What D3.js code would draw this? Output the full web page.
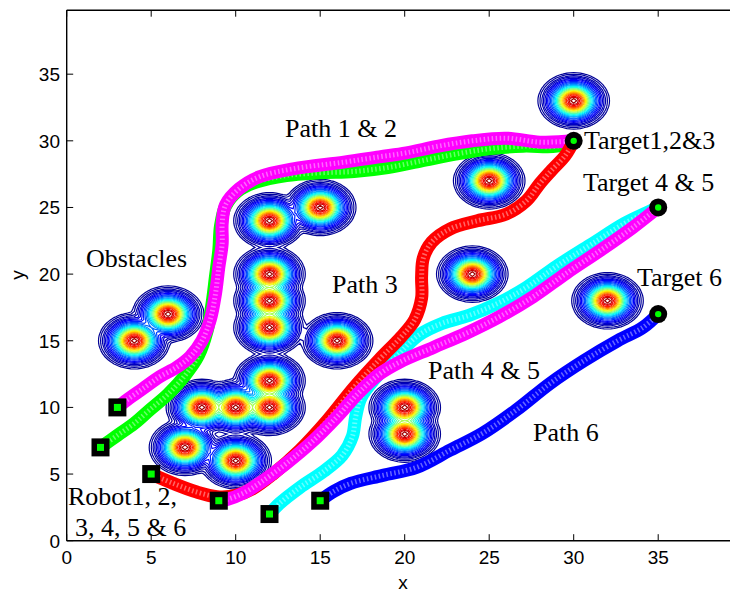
<!DOCTYPE html>
<html>
<head>
<meta charset="utf-8">
<script src="https://cdn.jsdelivr.net/npm/d3@7"></script>
<style>
  body { margin: 0; background: #fff; }
  svg { display: block; }
</style>
</head>
<body>
<svg id="chart" width="730" height="594"></svg>
<script>
// Obstacle centres (x, y)
const obstacleX = [30, 25, 32, 24, 20, 20, 16, 15, 12, 12, 12, 12, 12, 8, 10, 12, 7, 10, 6, 4];
const obstacleY = [33, 27, 18, 20, 10, 8, 15, 25, 24, 20, 18, 16, 12, 10, 10, 10, 7, 6, 17, 15];

// Robot start positions and targets
const startX = [3, 2, 5, 9, 12, 15];
const startY = [10, 7, 5, 3, 2, 3];
const targetX = [30, 35, 35];
const targetY = [30, 25, 17];

// Robot paths, [x, y] per waypoint
const path1 = [[2,7],[3,7.9],[4,8.8],[4.9,9.8],[6,11],[7,12.4],[7.8,13.9],[8.3,15.7],[8.6,17.8],[8.8,19.8],[9,21.8],[9.1,23.6],[9.4,25.1],[10.1,26.2],[11.2,26.9],[13,27.4],[15,27.6],[17,27.7],[19,28],[21,28.5],[23,29],[25,29.4],[27,29.6],[29,29.6],[30,30]];
const path2 = [[3,10],[3.6,10.6],[4.5,11.4],[5.5,12.3],[6.5,13],[7.3,13.8],[8,15],[8.5,16.6],[8.8,18.5],[9,20.5],[9.2,22.3],[9.2,23.8],[9.4,25.2],[10.2,26.4],[11.4,27.3],[13.4,27.9],[16.4,28.4],[18.5,28.8],[20.1,29.1],[22,29.6],[24,30],[26,30.2],[28,29.9],[30,30]];
const path3 = [[5,5],[6.3,4.3],[7.7,3.65],[8.9,3.3],[10,3.4],[11,3.9],[12.2,5],[13.8,6.8],[15.4,9],[17,11.5],[18.5,13.6],[19.8,15.3],[20.6,16.6],[21,18.2],[21,19.8],[21.1,21.2],[21.6,22.4],[22.7,23.4],[24.3,24],[26,24.5],[27.2,25.5],[28,26.8],[28.7,27.8],[29.5,28.9],[30,30]];
const path4 = [[12,2],[12.6,2.8],[13.8,4],[15.2,5.2],[16.3,6.4],[16.9,7.8],[17.1,9.3],[17.4,10.7],[18.2,12.1],[19.5,13.8],[20.8,15.4],[22.2,16.3],[23.8,16.9],[25.5,17.8],[27.2,19],[29,20.6],[31,22.2],[33,23.8],[34.3,24.6],[35,25]];
const path5 = [[9,3],[9.5,3.1],[10.5,3.6],[11.5,4.4],[13,5.8],[14.5,7.4],[16,9.3],[17.2,11],[18.5,12.5],[19.7,13.4],[21.7,14.5],[23.7,15.6],[25.6,16.8],[27.6,18.3],[29.6,20.1],[31.6,21.8],[33.5,23.5],[35,25]];
const path6 = [[15,3],[15.8,3.7],[16.8,4.3],[18.7,4.9],[20.7,5.5],[22.7,6.8],[24.6,8.05],[26.6,9.8],[28.6,11.8],[30.6,13.5],[32.6,15],[34.1,16],[35,17]];
const pathColors = ["#00ff00", "#ff00ff", "#00ffff", "#ff0000", "#ff00ff", "#0000ff"];
const pathOrder = [path1, path2, path4, path3, path5, path6];

// Axis ticks
const xTicks = [0, 5, 10, 15, 20, 25, 30, 35];
const yTicks = [0, 5, 10, 15, 20, 25, 30, 35];

// Contour levels of the obstacle field
const levels = [0.02, 0.03, 0.045, 0.06, 0.08, 0.1, 0.125, 0.155, 0.19, 0.225, 0.265, 0.305, 0.35, 0.395, 0.44, 0.49, 0.54, 0.59, 0.64, 0.69, 0.74, 0.79, 0.84, 0.89, 0.93, 0.97];

// Annotations
const labels = [
  {text: "Path 1 & 2", x: 285, y: 137},
  {text: "Obstacles", x: 86, y: 267},
  {text: "Path 3", x: 332, y: 293},
  {text: "Path 4 & 5", x: 428, y: 379},
  {text: "Path 6", x: 533, y: 441},
  {text: "Target1,2&3", x: 584, y: 149},
  {text: "Target 4 & 5", x: 583, y: 191},
  {text: "Target 6", x: 637, y: 286},
  {text: "Robot1, 2,", x: 68, y: 505},
  {text: "3, 4, 5 & 6", x: 75, y: 536}
];

const svg = d3.select("#chart");
const plotLeft = 66.7, plotBottom = 540.7, plotTop = 10.2;
const xMax = 39.8, yMax = 39.8;
const x = d3.scaleLinear().domain([0, xMax]).range([plotLeft, plotLeft + xMax * 16.9]);
const y = d3.scaleLinear().domain([0, yMax]).range([plotBottom, plotTop]);

svg.append("defs").append("clipPath").attr("id", "plot")
  .append("rect").attr("x", plotLeft).attr("y", plotTop).attr("width", 730 - plotLeft).attr("height", plotBottom - plotTop);

const plot = svg.append("g").attr("clip-path", "url(#plot)");

// Obstacle field on a grid: Gaussian bumps blended with a soft maximum
const step = 0.2;
const nx = Math.round(xMax / step) + 1, ny = Math.round(yMax / step) + 1;
const field = new Float64Array(nx * ny);
const twoS2 = 1.13, blendPow = 2.5;
for (let j = 0; j < ny; j++) {
  const gy = j * step;
  for (let i = 0; i < nx; i++) {
    const gx = i * step;
    let v = 0;
    for (let k = 0; k < obstacleX.length; k++) {
      const dx = gx - obstacleX[k], dy = gy - obstacleY[k];
      v += Math.pow(Math.exp(-(dx * dx + dy * dy) / twoS2), blendPow);
    }
    field[j * nx + i] = Math.pow(v, 1 / blendPow);
  }
}
function jet(t) {
  const c = v => Math.max(0, Math.min(1, v));
  const r = c(1.5 - Math.abs(4 * t - 3)), g = c(1.5 - Math.abs(4 * t - 2)), b = c(1.5 - Math.abs(4 * t - 1));
  return d3.rgb(r * 255, g * 255, b * 255).toString();
}
const contours = d3.contours().size([nx, ny]).thresholds(levels)(field);
const gridPath = d3.geoPath(d3.geoTransform({
  point(px, py) { this.stream.point(x((px - 0.5) * step), y((py - 0.5) * step)); }
}));
plot.append("g").selectAll("path").data(contours).join("path")
  .attr("d", gridPath)
  .attr("fill", "none")
  .attr("stroke", d => jet(d.value))
  .attr("stroke-width", 1.2);

// Robot paths: thick bands of overlapping ring markers
const line = d3.line().x(d => x(d[0])).y(d => y(d[1])).curve(d3.curveCatmullRom.alpha(0.5));
const paths = plot.append("g");
pathOrder.forEach((p, i) => {
  paths.append("path").attr("d", line(p)).attr("fill", "none")
    .attr("stroke", pathColors[i]).attr("stroke-width", 13)
    .attr("stroke-linecap", "round").attr("stroke-linejoin", "round");
  paths.append("path").attr("d", line(p)).attr("fill", "none")
    .attr("stroke", "#fff").attr("stroke-opacity", 0.4).attr("stroke-width", 5)
    .attr("stroke-dasharray", "1.5 2.5");
});

// Start markers
const marks = svg.append("g");
startX.forEach((sx, i) => {
  marks.append("rect").attr("x", x(sx) - 9).attr("y", y(startY[i]) - 9)
    .attr("width", 18).attr("height", 18).attr("fill", "#000");
  marks.append("rect").attr("x", x(sx) - 3.5).attr("y", y(startY[i]) - 3.5)
    .attr("width", 7).attr("height", 7).attr("fill", "#00ff00");
});
// Target markers
targetX.forEach((tx, i) => {
  marks.append("circle").attr("cx", x(tx)).attr("cy", y(targetY[i])).attr("r", 9).attr("fill", "#000");
  marks.append("circle").attr("cx", x(tx)).attr("cy", y(targetY[i])).attr("r", 3.2).attr("fill", "#00ff00");
});

// Axes: inward ticks, box lines on left, bottom, top
const axes = svg.append("g").attr("font-family", "'Liberation Sans', Arial, sans-serif").attr("font-size", 19);
axes.append("line").attr("x1", plotLeft).attr("x2", 730).attr("y1", plotBottom).attr("y2", plotBottom).attr("stroke", "#000").attr("stroke-width", 1.4);
axes.append("line").attr("x1", plotLeft).attr("x2", 730).attr("y1", plotTop).attr("y2", plotTop).attr("stroke", "#000").attr("stroke-width", 1.4);
axes.append("line").attr("x1", plotLeft).attr("x2", plotLeft).attr("y1", plotTop).attr("y2", plotBottom).attr("stroke", "#000").attr("stroke-width", 1.4);
xTicks.forEach(t => {
  axes.append("line").attr("x1", x(t)).attr("x2", x(t)).attr("y1", plotBottom).attr("y2", plotBottom - 6.5).attr("stroke", "#000");
  axes.append("line").attr("x1", x(t)).attr("x2", x(t)).attr("y1", plotTop).attr("y2", plotTop + 6.5).attr("stroke", "#000");
  axes.append("text").attr("x", x(t)).attr("y", 564).attr("text-anchor", "middle").text(t);
});
yTicks.forEach(t => {
  axes.append("line").attr("x1", plotLeft).attr("x2", plotLeft + 6.5).attr("y1", y(t)).attr("y2", y(t)).attr("stroke", "#000");
  axes.append("text").attr("x", 60).attr("y", y(t) + 7).attr("text-anchor", "end").text(t);
});
axes.append("text").attr("x", 403).attr("y", 589).attr("text-anchor", "middle").text("x");
axes.append("text").attr("transform", "translate(24,275) rotate(-90)").attr("text-anchor", "middle").text("y");

// Annotations
svg.append("g").attr("font-family", "'Liberation Serif', 'Times New Roman', serif").attr("font-size", 26)
  .selectAll("text").data(labels).join("text")
  .attr("x", d => d.x).attr("y", d => d.y).text(d => d.text);
</script>
</body>
</html>
